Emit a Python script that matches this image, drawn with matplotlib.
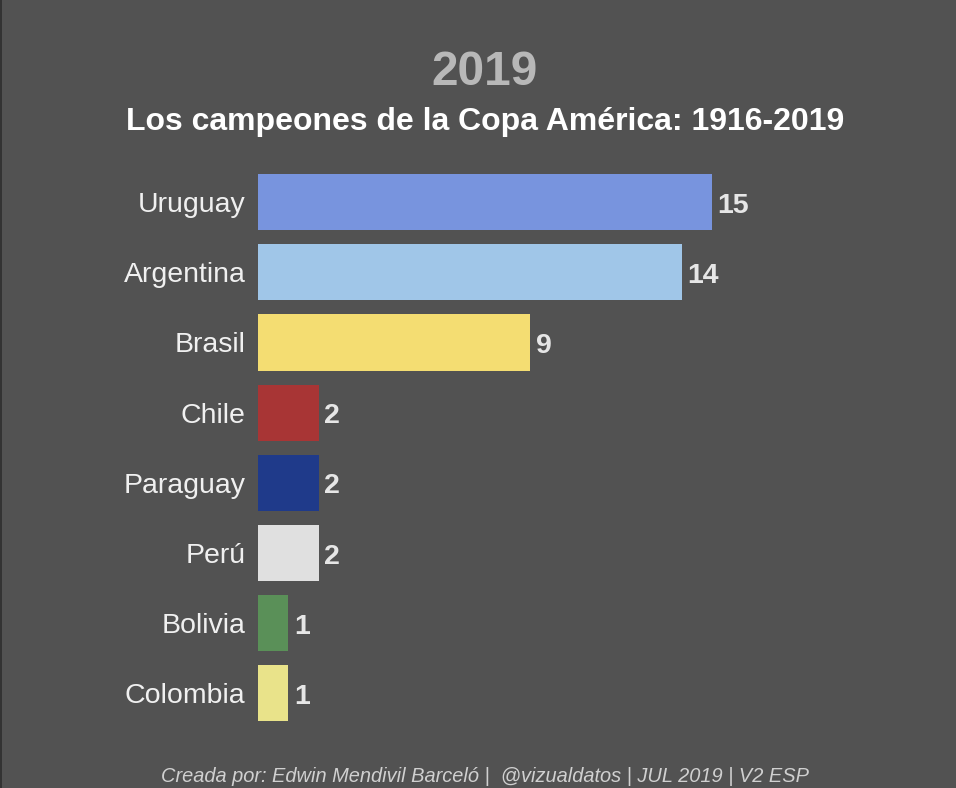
import matplotlib
matplotlib.use("Agg")
import matplotlib.pyplot as plt
from matplotlib.patches import Rectangle

plt.rcParams['font.family'] = ['Liberation Sans', 'DejaVu Sans']

# data
paises = ["Uruguay", "Argentina", "Brasil", "Chile", "Paraguay", "Perú", "Bolivia", "Colombia"]
titulos = [15, 14, 9, 2, 2, 2, 1, 1]
colores = ["#7894de", "#a0c6e8", "#f4dd72", "#a83535", "#1f3a8a", "#e0e0e0", "#5a9058", "#e9e38a"]
anio = "2019"
subtitulo = "Los campeones de la Copa América: 1916-2019"
pie = "Creada por: Edwin Mendivil Barceló |  @vizualdatos | JUL 2019 | V2 ESP"

bg = "#525252"
fig = plt.figure(figsize=(9.56, 7.88), dpi=100, facecolor=bg)
fig.patches.append(Rectangle((0, 0), 2 / 956, 1, transform=fig.transFigure,
                             facecolor="#333333", edgecolor="none"))

ax = fig.add_axes([258 / 956, 1 - 728.5 / 788, 484 / 956, 561.5 / 788])
ax.set_facecolor(bg)
pos = list(range(len(paises)))
ax.barh(pos, titulos, height=0.8, color=colores)
ax.set_xlim(0, 16)
ax.set_ylim(len(paises) - 0.5, -0.5)

for p, v in zip(pos, titulos):
    ax.annotate(str(v), (v, p), xytext=(4, -2.5), textcoords="offset points",
                va="center", ha="left", fontsize=20.5, fontweight="bold", color="#e6e6e6")

ax.set_yticks(pos)
ax.set_yticklabels(paises, fontsize=20.5, color="#f0f0f0")
ax.tick_params(axis="y", length=0, pad=9)
ax.set_xticks([])
for s in ax.spines.values():
    s.set_visible(False)

fig.text(0.507, 1 - 85 / 788, anio, ha="center", va="baseline",
         fontsize=34.5, fontweight="bold", color="#b8b8b8")
fig.text(0.507, 1 - 130 / 788, subtitulo, ha="center", va="baseline",
         fontsize=23, fontweight="bold", color="#ffffff")
fig.text(0.507, 1 - 782 / 788, pie, ha="center", va="baseline",
         fontsize=14.4, style="italic", color="#d0d0d0")

fig.savefig("out.png", dpi=100, facecolor=bg)
